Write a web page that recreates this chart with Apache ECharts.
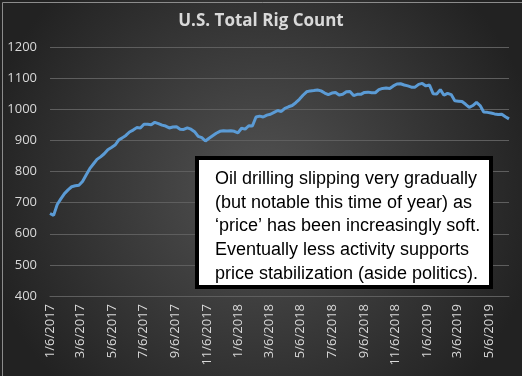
<!DOCTYPE html>
<html>
<head>
<meta charset="utf-8">
<title>U.S. Total Rig Count</title>
<script src="https://cdn.jsdelivr.net/npm/echarts@6/dist/echarts.min.js"></script>
<style>
  html, body { margin: 0; padding: 0; background: #2b2b2b; }
  #chart { width: 522px; height: 376px; }
</style>
</head>
<body>
<div id="chart"></div>
<script>
// weekly rig count, first Friday of 2017 onward
const firstWeek = [2017, 0, 6];
const rigs2017 = [
  665, 659, 694, 712, 729, 741, 751, 754, 756, 768, 789, 809, 824,
  839, 847, 857, 870, 877, 885, 901, 908, 916, 927, 933, 941, 940,
  952, 952, 950, 958, 954, 949, 946, 940, 943, 944, 936, 935, 940,
  936, 928, 913, 909, 898, 907, 915, 923, 929, 931, 930, 931, 929
];
const rigs2018 = [
  924, 939, 936, 947, 946, 975, 978, 975, 981, 984, 990, 996, 993,
  1003, 1008, 1012, 1021, 1032, 1045, 1056, 1059, 1060, 1062, 1059, 1052, 1047,
  1052, 1054, 1046, 1048, 1056, 1057, 1044, 1048, 1048, 1054, 1055, 1053, 1053,
  1063, 1067, 1068, 1067, 1075, 1081, 1082, 1078, 1075, 1071, 1071, 1080, 1083
];
const rigs2019 = [
  1075, 1078, 1050, 1049, 1063, 1045, 1051, 1047, 1027, 1026, 1025, 1016, 1006,
  1012, 1022, 1012, 991, 990, 988, 985, 983, 984, 976, 969
];
const tickDates = [
  '1/6/2017', '3/6/2017', '5/6/2017', '7/6/2017', '9/6/2017', '11/6/2017',
  '1/6/2018', '3/6/2018', '5/6/2018', '7/6/2018', '9/6/2018', '11/6/2018',
  '1/6/2019', '3/6/2019', '5/6/2019'
];
const titleText = 'U.S. Total Rig Count';
const noteLines = [
  'Oil drilling slipping very gradually',
  '(but notable this time of year) as',
  '\u2018price\u2019 has been increasingly soft.',
  'Eventually less activity supports',
  'price stabilization (aside politics).'
];

// x is counted in days from the first weekly report
const DAY = 86400000;
const base = Date.UTC(firstWeek[0], firstWeek[1], firstWeek[2]);
const dayOf = s => { const p = s.split('/').map(Number); return Math.round((Date.UTC(p[2], p[0] - 1, p[1]) - base) / DAY); };
const rigs = rigs2017.concat(rigs2018, rigs2019);
const seriesData = rigs.map((v, i) => [7 * i, v]);
const tickDays = tickDates.map(dayOf);
const labelFor = {};
tickDates.forEach((s, i) => { labelFor[tickDays[i]] = s; });

const chart = echarts.init(document.getElementById('chart'));

const option = {
  animation: false,
  backgroundColor: new echarts.graphic.RadialGradient(0.5, 0.5, 0.75, [
    { offset: 0, color: '#525252' },
    { offset: 1, color: '#222222' }
  ]),
  title: {
    text: titleText,
    left: 'center',
    top: 8,
    textStyle: { color: '#d9d9d9', fontFamily: 'Open Sans', fontWeight: 'bold', fontSize: 17 }
  },
  grid: { left: 50, right: 13, top: 47, bottom: 80 },
  xAxis: {
    type: 'value',
    min: 0,
    max: seriesData[seriesData.length - 1][0],
    axisLine: { show: true, lineStyle: { color: '#5e5e5e', width: 1 } },
    axisTick: { show: false },
    splitLine: { show: false },
    axisLabel: {
      customValues: tickDays,
      rotate: 90,
      margin: 8,
      color: '#d9d9d9',
      fontFamily: 'Open Sans',
      fontSize: 13,
      showMinLabel: true,
      formatter: (val) => labelFor[val] || ''
    }
  },
  yAxis: {
    type: 'value',
    min: 400,
    max: 1200,
    interval: 100,
    axisLine: { show: false },
    axisTick: { show: false },
    axisLabel: {
      color: '#d9d9d9', fontFamily: 'Open Sans', fontSize: 13, margin: 13,
      formatter: (v) => String(v)
    },
    splitLine: { lineStyle: { color: '#5e5e5e', width: 1 } }
  },
  series: [{
    type: 'line',
    data: seriesData,
    symbol: 'none',
    lineStyle: { color: '#5b9bd5', width: 3 },
    itemStyle: { color: '#5b9bd5' }
  }],
  graphic: [
    {
      type: 'rect',
      left: 0, top: 0,
      shape: { x: 0.5, y: 0.5, width: 521, height: 375 },
      style: { fill: 'none', stroke: '#8c8c8c', lineWidth: 1 },
      silent: true
    },
    {
      type: 'rect',
      shape: { x: 197, y: 158, width: 294, height: 129 },
      style: { fill: '#ffffff', stroke: '#000000', lineWidth: 4 },
      z: 10
    },
    {
      type: 'text',
      x: 215,
      y: 167,
      style: {
        text: noteLines.join('\n'),
        fill: '#000000',
        font: '18px "Liberation Sans", Arial, sans-serif',
        lineHeight: 23.7,
        textVerticalAlign: 'top'
      },
      z: 11
    }
  ]
};

chart.setOption(option);
</script>
</body>
</html>
